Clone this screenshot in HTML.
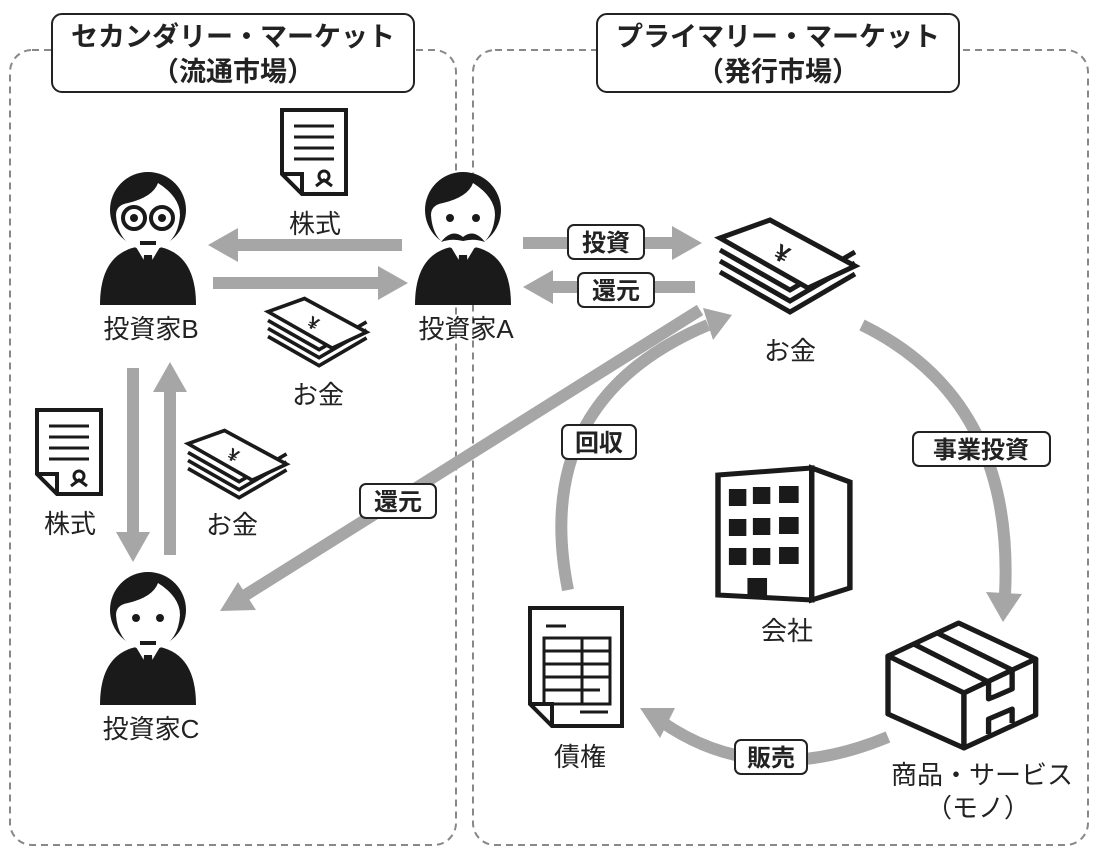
<!DOCTYPE html>
<html><head><meta charset="utf-8"><style>
html,body{margin:0;padding:0;background:#fff}
svg{display:block}
text{font-family:"Liberation Sans","Noto Sans CJK JP",sans-serif;fill:#222}
.t{font-size:26px;text-anchor:middle}
.b{font-size:24px;font-weight:bold;text-anchor:middle}
.h{font-size:27px;font-weight:bold;text-anchor:middle}
.ar{stroke:#a6a6a6;stroke-width:12;fill:none}
.ah{fill:#a6a6a6}
.lb{fill:#fff;stroke:#222;stroke-width:2}
</style></head><body>
<svg width="1098" height="856" viewBox="0 0 1098 856" xmlns="http://www.w3.org/2000/svg">
<defs>
<g id="person">
 <path d="M-48,130 Q-48,80 -12,72 L12,72 Q48,80 48,130 Z" fill="#1a1a1a"/>
 <path d="M-12,72 L0,92 L12,72 Z" fill="#fff"/>
 <path d="M-4,80 L4,80 L6,110 L0,118 L-6,110 Z" fill="#1a1a1a"/>
 <circle cx="0" cy="35" r="38" fill="#1a1a1a"/>
 <path d="M-32,40 Q-30,72 0,76 Q30,72 32,40 Q32,22 10,8 Q5,22 -20,28 Q-32,30 -32,40Z" fill="#fff"/>
</g>
<g id="doc">
 <path d="M2,2 L66,2 L66,86 L22,86 L2,66 Z" fill="#fff" stroke="#1a1a1a" stroke-width="4"/>
 <path d="M2,66 L22,66 L22,86" fill="none" stroke="#1a1a1a" stroke-width="4"/>
 <g stroke="#1a1a1a" stroke-width="3"><line x1="14" y1="18" x2="54" y2="18"/><line x1="14" y1="29" x2="54" y2="29"/><line x1="14" y1="40" x2="54" y2="40"/><line x1="14" y1="51" x2="54" y2="51"/></g>
 <circle cx="44" cy="68" r="5" fill="none" stroke="#1a1a1a" stroke-width="3"/>
 <path d="M36,78 L44,72 L52,78" fill="none" stroke="#1a1a1a" stroke-width="3"/>
</g>
<g id="money">
 <path d="M0,50 L70,90 L135,52" fill="none" stroke="#1a1a1a" stroke-width="5"/>
 <path d="M0,39 L70,79 L135,41" fill="none" stroke="#1a1a1a" stroke-width="5"/>
 <path d="M0,28 L70,68 L135,30" fill="none" stroke="#1a1a1a" stroke-width="5"/>
 <path d="M0,18 L50,0 L135,46 L88,68 Z" fill="#fff" stroke="#1a1a1a" stroke-width="5" transform="translate(0,-2)"/>
 <text x="62" y="40" font-size="24" font-weight="bold" text-anchor="middle" transform="rotate(28 62 32)">¥</text>
</g>
</defs>
<rect x="10" y="50" width="446" height="795" rx="22" fill="none" stroke="#888" stroke-width="2" stroke-dasharray="7,5"/>
<rect x="473" y="50" width="615" height="795" rx="22" fill="none" stroke="#888" stroke-width="2" stroke-dasharray="7,5"/>
<rect x="52" y="14" width="362" height="78" rx="10" class="lb"/>
<text x="233" y="46" class="h">セカンダリー・マーケット</text>
<text x="233" y="81" class="h">（流通市場）</text>
<rect x="597" y="14" width="362" height="78" rx="10" class="lb"/>
<text x="778" y="46" class="h">プライマリー・マーケット</text>
<text x="778" y="81" class="h">（発行市場）</text>

<use href="#person" x="148" y="175"/>
<g stroke="#1a1a1a" stroke-width="4" fill="#fff"><circle cx="134" cy="218" r="11"/><circle cx="162" cy="218" r="11"/></g>
<circle cx="134" cy="218" r="4" fill="#1a1a1a"/><circle cx="162" cy="218" r="4" fill="#1a1a1a"/>
<line x1="140" y1="243" x2="156" y2="243" stroke="#1a1a1a" stroke-width="4"/>
<use href="#person" x="463" y="175"/>
<circle cx="450" cy="218" r="4" fill="#1a1a1a"/><circle cx="476" cy="218" r="4" fill="#1a1a1a"/>
<path d="M441,242 Q452,228 463,237 Q474,228 485,242 Q474,238 463,241 Q452,238 441,242Z" fill="#1a1a1a"/>
<use href="#person" x="148" y="575"/>
<circle cx="136" cy="618" r="4" fill="#1a1a1a"/><circle cx="160" cy="618" r="4" fill="#1a1a1a"/>
<line x1="140" y1="643" x2="156" y2="643" stroke="#1a1a1a" stroke-width="4"/>
<text x="151" y="338" class="t">投資家B</text>
<text x="466" y="338" class="t">投資家A</text>
<text x="151" y="738" class="t">投資家C</text>

<use href="#doc" x="280" y="108"/>
<use href="#doc" x="35" y="408"/>
<use href="#money" x="720" y="222"/>
<use href="#money" x="268" y="300" transform="translate(268,300) scale(0.73) translate(-268,-300)"/>
<use href="#money" x="188" y="432" transform="translate(188,432) scale(0.73) translate(-188,-432)"/>
<text x="315" y="233" class="t">株式</text>
<text x="70" y="533" class="t">株式</text>
<text x="318" y="404" class="t">お金</text>
<text x="232" y="534" class="t">お金</text>
<text x="790" y="360" class="t">お金</text>

<line x1="402" y1="245" x2="235" y2="245" class="ar"/><path d="M208,245 L238,228 L238,262Z" class="ah"/>
<line x1="213" y1="283" x2="380" y2="283" class="ar"/><path d="M408,283 L378,266 L378,300Z" class="ah"/>
<line x1="133" y1="368" x2="133" y2="535" class="ar"/><path d="M133,562 L116,532 L150,532Z" class="ah"/>
<line x1="170" y1="555" x2="170" y2="390" class="ar"/><path d="M170,362 L153,392 L187,392Z" class="ah"/>
<line x1="523" y1="243" x2="675" y2="243" class="ar"/><path d="M702,243 L672,226 L672,260Z" class="ah"/>
<line x1="695" y1="287" x2="550" y2="287" class="ar"/><path d="M523,287 L553,270 L553,304Z" class="ah"/>
<line x1="700" y1="310" x2="244" y2="596" class="ar"/><path d="M220,611 L238,582 L256,610Z" class="ah"/>
<path d="M862,325 Q1015,400 1005,595" class="ar"/><path d="M1003,622 L986,592 L1022,594Z" class="ah"/>
<path d="M888,737 Q760,790 662,722" class="ar"/><path d="M640,708 L675,708 L660,738Z" class="ah"/>
<path d="M568,590 Q530,400 708,325" class="ar"/><path d="M732,315 L703,308 L713,340Z" class="ah"/>
<rect x="568" y="225" width="76" height="34" rx="6" class="lb"/><text x="606" y="251" class="b">投資</text>
<rect x="578" y="273" width="76" height="34" rx="6" class="lb"/><text x="616" y="299" class="b">還元</text>
<rect x="360" y="484" width="76" height="34" rx="6" class="lb"/><text x="398" y="510" class="b">還元</text>
<rect x="562" y="425" width="74" height="34" rx="6" class="lb"/><text x="599" y="451" class="b">回収</text>
<rect x="913" y="432" width="137" height="34" rx="6" class="lb"/><text x="981" y="458" class="b">事業投資</text>
<rect x="735" y="740" width="72" height="34" rx="6" class="lb"/><text x="771" y="766" class="b">販売</text>

<g transform="translate(718,468) scale(1.09,1) translate(-708,-468)">
<g stroke="#1a1a1a" stroke-width="5" fill="#fff">
<path d="M708,475 L794,468 L794,600 L708,595 Z"/><path d="M794,468 L829,482 L829,588 L794,600 Z"/></g>
<g fill="#1a1a1a">
<rect x="718" y="489" width="16" height="17"/><rect x="740" y="487" width="16" height="17"/><rect x="764" y="486" width="18" height="17"/>
<rect x="718" y="519" width="16" height="17"/><rect x="740" y="518" width="16" height="17"/><rect x="764" y="517" width="18" height="17"/>
<rect x="718" y="548" width="16" height="17"/><rect x="740" y="548" width="16" height="17"/><rect x="764" y="547" width="18" height="17"/>
<rect x="735" y="578" width="18" height="19"/></g></g>
<text x="787" y="640" class="t">会社</text>

<g stroke="#1a1a1a" stroke-width="4" fill="#fff">
<path d="M530,608 L622,608 L622,726 L552,726 L530,704 Z"/><path d="M530,704 L552,704 L552,726" fill="none"/></g>
<g stroke="#1a1a1a" stroke-width="3" fill="none">
<line x1="546" y1="626" x2="566" y2="626"/><rect x="544" y="638" width="66" height="66"/>
<line x1="544" y1="651" x2="610" y2="651"/><line x1="544" y1="664" x2="610" y2="664"/><line x1="544" y1="677" x2="610" y2="677"/><line x1="544" y1="690" x2="600" y2="690"/>
<line x1="582" y1="638" x2="582" y2="704"/><line x1="580" y1="712" x2="608" y2="712"/></g>
<text x="580" y="766" class="t">債権</text>

<g transform="translate(888,623) scale(1.07,1) translate(-864,-624)">
<g stroke="#1a1a1a" stroke-width="5" fill="#fff" stroke-linejoin="round">
<path d="M864,657 L930,624 L1002,660 L935,694 Z"/>
<path d="M864,657 L935,694 L935,749 L864,715 Z"/>
<path d="M935,694 L1002,660 L1002,716 L935,749 Z"/>
<path d="M888,645 L958,683 M910,634 L980,671" fill="none"/>
<path d="M958,683 L958,700 L965,697 L980,690 L980,671" fill="none"/>
<path d="M958,735 L958,720 L980,710 L980,724"/></g></g>
<text x="982" y="784" class="t">商品・サービス</text>
<text x="978" y="817" class="t">（モノ）</text>
</svg>
</body></html>
